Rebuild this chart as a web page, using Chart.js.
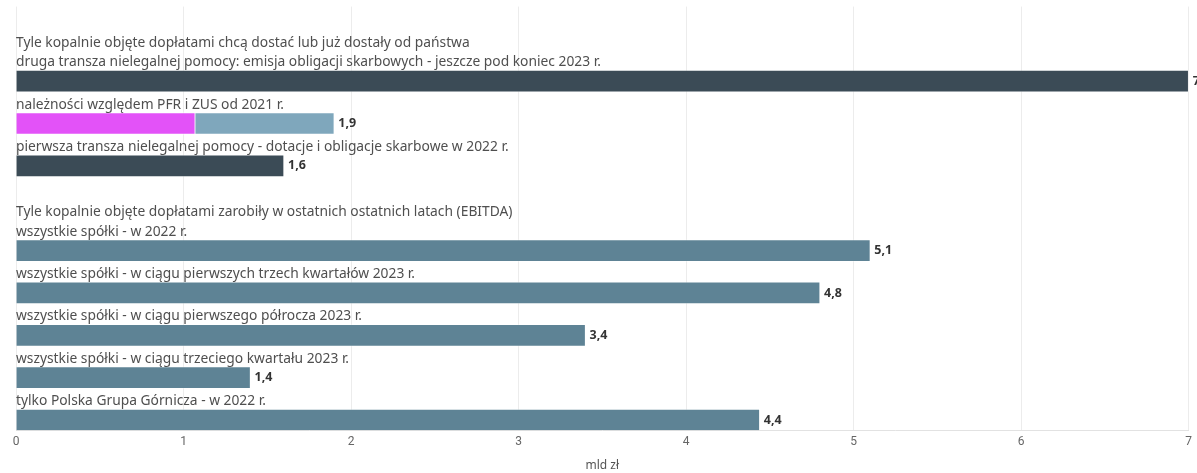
<!DOCTYPE html>
<html>
<head>
<meta charset="utf-8">
<script src="https://cdn.jsdelivr.net/npm/chart.js@4.4.1/dist/chart.umd.min.js"></script>
<style>
  html, body { margin: 0; padding: 0; background: #fff; }
  #wrap { width: 1197px; height: 473px; position: relative; }
</style>
</head>
<body>
<div id="wrap"><canvas id="c"></canvas></div>
<script>
const categories = [
  'Tyle kopalnie objęte dopłatami chcą dostać lub już dostały od państwa',
  'druga transza nielegalnej pomocy: emisja obligacji skarbowych - jeszcze pod koniec 2023 r.',
  'należności względem PFR i ZUS od 2021 r.',
  'pierwsza transza nielegalnej pomocy - dotacje i obligacje skarbowe w 2022 r.',
  'Tyle kopalnie objęte dopłatami zarobiły w ostatnich ostatnich latach (EBITDA)',
  'wszystkie spółki - w 2022 r.',
  'wszystkie spółki - w ciągu pierwszych trzech kwartałów 2023 r.',
  'wszystkie spółki - w ciągu pierwszego półrocza 2023 r.',
  'wszystkie spółki - w ciągu trzeciego kwartału 2023 r.',
  'tylko Polska Grupa Górnicza - w 2022 r.'
];
const isHeader = [true, false, false, false, true, false, false, false, false, false];
const mainValues = [null, 7, null, 1.6, null, 5.1, 4.8, 3.4, 1.4, 4.44];
const pinkValues = [null, null, 1.07, null, null, null, null, null, null, null];
const blueValues = [null, null, 0.83, null, null, null, null, null, null, null];
const xTicks = [0, 1, 2, 3, 4, 5, 6, 7];
const xTitle = 'mld zł';

const DARK = '#3b4b56', STEEL = '#5e8395', PINK = '#e352f8', LIGHTBLUE = '#7fa7bc';
const mainColors = mainValues.map((v, i) => (i < 4 ? DARK : STEEL));
const placeholder = categories.map(() => 0);

const labelPlugin = {
  id: 'rowLabels',
  afterDatasetsDraw(chart) {
    const ctx = chart.ctx;
    const y = chart.scales.y;
    const left = chart.chartArea.left;
    ctx.save();
    ctx.textAlign = 'left';
    ctx.textBaseline = 'alphabetic';
    ctx.font = '13.8px "Noto Sans"';
    ctx.fillStyle = '#4f4f4f';
    categories.forEach((lab, i) => {
      const c = y.getPixelForValue(i);
      if (isHeader[i]) ctx.fillText(lab, left, c + 19);
      else ctx.fillText(lab, left, c - 4);
    });
    // value labels
    ctx.font = 'bold 12.5px "Noto Sans"';
    ctx.fillStyle = '#333';
    ctx.textBaseline = 'middle';
    const metas = [1, 2, 3].map(d => chart.getDatasetMeta(d));
    categories.forEach((lab, i) => {
      if (isHeader[i]) return;
      let total = 0, right = null, cy = null;
      [mainValues, pinkValues, blueValues].forEach((arr, k) => {
        if (arr[i] != null) {
          total += arr[i];
          const el = metas[k].data[i];
          if (right === null || el.x > right) right = el.x;
          cy = el.y;
        }
      });
      if (right === null) return;
      const txt = (Math.round(total * 10) / 10).toLocaleString('pl-PL');
      ctx.fillText(txt, right + 4, cy);
    });
    ctx.restore();
  }
};

new Chart(document.getElementById('c'), {
  type: 'bar',
  data: {
    labels: categories,
    datasets: [
      { label: 'ph', data: placeholder, stack: 'a', backgroundColor: 'rgba(0,0,0,0)', borderWidth: 0, barThickness: 21 },
      { label: 'main', data: mainValues, stack: 'b', backgroundColor: mainColors, borderColor: 'rgba(255,255,255,0.35)', borderWidth: 1, barThickness: 22 },
      { label: 'pink', data: pinkValues, stack: 'b', backgroundColor: PINK, borderColor: 'rgba(255,255,255,0.8)', borderWidth: 1, barThickness: 22 },
      { label: 'blue', data: blueValues, stack: 'b', backgroundColor: LIGHTBLUE, borderColor: 'rgba(255,255,255,0.8)', borderWidth: 1, barThickness: 22 }
    ]
  },
  options: {
    indexAxis: 'y',
    responsive: true,
    maintainAspectRatio: false,
    animation: false,
    layout: { padding: { left: 16, right: 8, top: 6.6, bottom: 0 } },
    plugins: { legend: { display: false }, tooltip: { enabled: false } },
    scales: {
      x: {
        stacked: true,
        min: 0, max: 7,
        afterBuildTicks(s) { s.ticks = xTicks.map(v => ({ value: v })); },
        grid: { color: '#ececec', drawTicks: false },
        border: { color: '#e2e2e2' },
        ticks: { padding: 5, color: '#666', font: { family: 'Roboto', size: 12 } },
        title: { display: true, text: xTitle, color: '#555', font: { family: 'Noto Sans', size: 12 }, padding: { top: 4, bottom: 0 } }
      },
      y: {
        display: false
      }
    }
  },
  plugins: [labelPlugin]
});
</script>
</body>
</html>
